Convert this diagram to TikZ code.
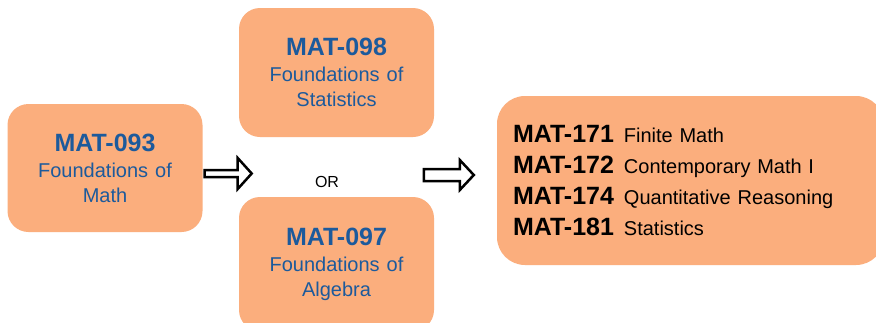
\documentclass[tikz,border=0pt]{standalone}
\usepackage{fontspec}
\setmainfont{Liberation Sans}
\usetikzlibrary{calc}
\definecolor{boxfill}{HTML}{FBAE7D}
\definecolor{codeblue}{HTML}{1C5A9C}
\newcommand\coursecode{\fontsize{25}{25}\selectfont\bfseries}
% block arrow: start, length, head length, shaft half width, head half width
\newcommand\blockarrow[5]{%
  \draw[blockarrow] ($(#1)+(0,-#4)$) -- ++(#2-#3,0) -- ++(0,#4-#5)
    -- ($(#1)+(#2,0)$) -- ($(#1)+(#2-#3,#5)$) -- ++(0,#4-#5)
    -- ($(#1)+(0,#4)$) -- cycle;}
\begin{document}
\begin{tikzpicture}[x=1pt,y=-1pt,
  course/.style={fill=boxfill, rounded corners=21pt, inner sep=0pt, align=center,
    text=codeblue, font=\fontsize{20}{25}\selectfont},
  blockarrow/.style={draw=black, line width=2.5pt, fill=white, line join=miter}]
\clip (0,0) rectangle (876,322);
\fill[white] (0,0) rectangle (876,322);

\node[course, minimum width=195pt, minimum height=128pt] (m093) at (105,168)
  {{\coursecode MAT-093}\\[1pt]Foundations\hspace{7pt}of\\Math};
\node[course, minimum width=195pt, minimum height=129pt] (m098) at (336.5,72.5)
  {{\coursecode MAT-098}\\[1pt]Foundations\hspace{7pt}of\\Statistics};
\node[course, minimum width=195pt, minimum height=134pt] (m097) at (336.5,264)
  {{\coursecode MAT-097}\\[1pt]Foundations\hspace{7pt}of\\Algebra};
\node[anchor=base, font=\fontsize{16}{18}\selectfont] (or) at (327,187) {OR};

\node[fill=boxfill, rounded corners=28pt, minimum height=169pt, inner xsep=16pt,
  text width=355pt, align=left, font=\fontsize{20}{31.3}\selectfont] (target) at (690.5,180.5)
  {{\coursecode MAT-171}\hspace{10pt}Finite Math\\
   {\coursecode MAT-172}\hspace{10pt}Contemporary Math I\\
   {\coursecode MAT-174}\hspace{10pt}Quantitative\hspace{7pt}Reasoning\\
   {\coursecode MAT-181}\hspace{10pt}Statistics};

\coordinate (a1) at ([xshift=2pt,yshift=-5.5pt]m093.east);
\coordinate (a2) at ([xshift=-73pt,yshift=5.5pt]target.west);
\blockarrow{a1}{47}{14}{3.5}{15.5}
\blockarrow{a2}{50}{14}{6}{15}
\end{tikzpicture}
\end{document}
